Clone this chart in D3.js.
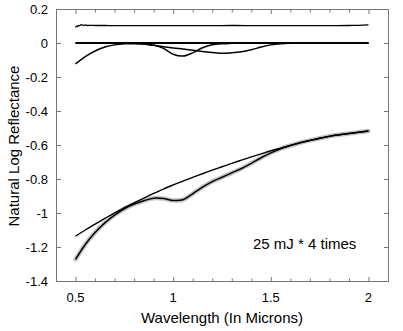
<!DOCTYPE html>
<meta charset="utf-8">
<style>
    body { margin: 0; background: #fff; }
    text { font-family: "Liberation Sans", Arial, Helvetica, sans-serif; fill: #000; }
    .frame { fill: none; stroke: #777; stroke-width: 1; }
    .tick { stroke: #777; stroke-width: 1; }
</style>
<svg width="403" height="331"></svg>
<script src="https://cdnjs.cloudflare.com/ajax/libs/d3/7.8.5/d3.min.js"></script>
<script>

    // wavelength grid (microns) for the model curves
    var wl = [0.5, 0.55, 0.6, 0.65, 0.7, 0.75, 0.8, 0.85, 0.9, 0.95, 1.0, 1.05, 1.1, 1.15, 1.2, 1.25,
        1.3, 1.35, 1.4, 1.45, 1.5, 1.55, 1.6, 1.65, 1.7, 1.75, 1.8, 1.85, 1.9, 1.95, 2.0];

    // fitted natural log reflectance
    var fitted = [-1.273, -1.185, -1.115, -1.058, -1.012, -0.975, -0.948, -0.928, -0.913, -0.915, -0.926,
        -0.922, -0.887, -0.848, -0.815, -0.790, -0.764, -0.738, -0.708, -0.675, -0.646, -0.622, -0.603,
        -0.587, -0.573, -0.560, -0.549, -0.540, -0.532, -0.525, -0.518];

    // continuum
    var continuum = [-1.137, -1.100, -1.066, -1.032, -0.999, -0.969, -0.940, -0.912, -0.885, -0.859, -0.835,
        -0.812, -0.790, -0.769, -0.748, -0.728, -0.708, -0.689, -0.670, -0.652, -0.634, -0.618, -0.602,
        -0.587, -0.573, -0.560, -0.549, -0.540, -0.532, -0.525, -0.518];

    // band near 1 micron (with short wavelength tail)
    var band1 = [-0.123, -0.080, -0.047, -0.024, -0.011, -0.005, -0.004, -0.006, -0.012, -0.032, -0.066,
        -0.077, -0.058, -0.028, -0.010, -0.004, -0.002, -0.001, -0.001, 0, 0, 0, 0,
        0, 0, 0, 0, 0, 0, 0, 0];

    // band near 1.25 micron
    var band2 = [0, 0, 0, 0, 0, 0, -0.002, -0.006, -0.014, -0.022, -0.029,
        -0.035, -0.042, -0.050, -0.056, -0.061, -0.058, -0.052, -0.040, -0.024, -0.011, -0.004, -0.001,
        0, 0, 0, 0, 0, 0, 0, 0];

    // residual, offset by +0.1
    var residWl = [0.5, 0.505, 0.51, 0.515, 0.52, 0.53, 0.54, 0.55, 0.56, 0.58, 0.6, 0.65, 0.7, 0.8, 0.9,
        1.0, 1.1, 1.2, 1.3, 1.4, 1.5, 1.6, 1.7, 1.8, 1.9, 1.95, 2.0];
    var resid = [0.092, 0.099, 0.096, 0.104, 0.101, 0.108, 0.103, 0.106, 0.103, 0.104, 0.103, 0.103, 0.102,
        0.102, 0.102, 0.102, 0.102, 0.102, 0.103, 0.102, 0.102, 0.102, 0.102, 0.102, 0.103, 0.104, 0.107];

    var zeroWl = [0.5, 2.0];
    var zeroVal = [0, 0];

    var xMajor = [0.5, 1, 1.5, 2];
    var xMinor = d3.range(5, 21).map(function (i) { return i / 10; });
    var yTicks = [0.2, 0, -0.2, -0.4, -0.6, -0.8, -1, -1.2, -1.4];

    var svg = d3.select("svg");
    var plotL = 56, plotR = 388, plotT = 9, plotB = 281;

    var x = d3.scaleLinear().domain([0.4, 2.1]).range([plotL, plotR]);
    var y = d3.scaleLinear().domain([-1.4, 0.2]).range([plotB, plotT]);

    function series(xs, ys) {
        return xs.map(function (v, i) { return [v, ys[i]]; });
    }

    var line = d3.line()
        .x(function (d) { return x(d[0]); })
        .y(function (d) { return y(d[1]); })
        .curve(d3.curveCatmullRom);

    // frame
    svg.append("rect")
        .attr("class", "frame")
        .attr("x", plotL + 0.5).attr("y", plotT + 0.5)
        .attr("width", plotR - plotL).attr("height", plotB - plotT);

    // x ticks (bottom and top, inward)
    xMinor.forEach(function (v) {
        var major = xMajor.some(function (m) { return Math.abs(m - v) < 1e-9; });
        var len = major ? 4 : 2.5;
        svg.append("line").attr("class", "tick")
            .attr("x1", x(v) + 0.5).attr("x2", x(v) + 0.5)
            .attr("y1", plotB).attr("y2", plotB - len);
        svg.append("line").attr("class", "tick")
            .attr("x1", x(v) + 0.5).attr("x2", x(v) + 0.5)
            .attr("y1", plotT + 1).attr("y2", plotT + 1 + len);
    });

    svg.selectAll(".xlab")
        .data(xMajor)
        .enter().append("text")
        .attr("x", function (d) { return x(d); })
        .attr("y", 302)
        .attr("text-anchor", "middle")
        .attr("font-size", 13)
        .text(function (d) { return d; });

    // y ticks (left and right, inward)
    yTicks.forEach(function (v) {
        svg.append("line").attr("class", "tick")
            .attr("x1", plotL + 1).attr("x2", plotL + 5)
            .attr("y1", y(v) + 0.5).attr("y2", y(v) + 0.5);
        svg.append("line").attr("class", "tick")
            .attr("x1", plotR).attr("x2", plotR - 4)
            .attr("y1", y(v) + 0.5).attr("y2", y(v) + 0.5);
    });

    svg.selectAll(".ylab")
        .data(yTicks)
        .enter().append("text")
        .attr("x", 48)
        .attr("y", function (d) { return y(d) + 4.5; })
        .attr("text-anchor", "end")
        .attr("font-size", 13)
        .text(function (d) { return d; });

    svg.append("text")
        .attr("x", 222).attr("y", 323)
        .attr("text-anchor", "middle")
        .attr("font-size", 15)
        .text("Wavelength (In Microns)");

    svg.append("text")
        .attr("transform", "translate(19,146) rotate(-90)")
        .attr("text-anchor", "middle")
        .attr("font-size", 15)
        .text("Natural Log Reflectance");

    svg.append("text")
        .attr("x", 253).attr("y", 249)
        .attr("font-size", 15)
        .text("25 mJ * 4 times");

    // curves
    var g = svg.append("g").attr("fill", "none");

    // observed spectrum halo + fit
    g.append("path").attr("d", line(series(wl, fitted)))
        .attr("stroke", "#c4c4c4").attr("stroke-width", 4.5).attr("stroke-linecap", "round");
    g.append("path").attr("d", line(series(wl, fitted)))
        .attr("stroke", "#000").attr("stroke-width", 1.5);

    g.append("path").attr("d", line(series(wl, continuum)))
        .attr("stroke", "#000").attr("stroke-width", 1.4);

    g.append("path").attr("d", line(series(zeroWl, zeroVal)))
        .attr("stroke", "#000").attr("stroke-width", 2);

    g.append("path").attr("d", line(series(wl, band1)))
        .attr("stroke", "#000").attr("stroke-width", 1.5);
    g.append("path").attr("d", line(series(wl, band2)))
        .attr("stroke", "#000").attr("stroke-width", 1.5);

    g.append("path").attr("d", line(series(residWl, resid)))
        .attr("stroke", "#000").attr("stroke-width", 1.3);

</script>
